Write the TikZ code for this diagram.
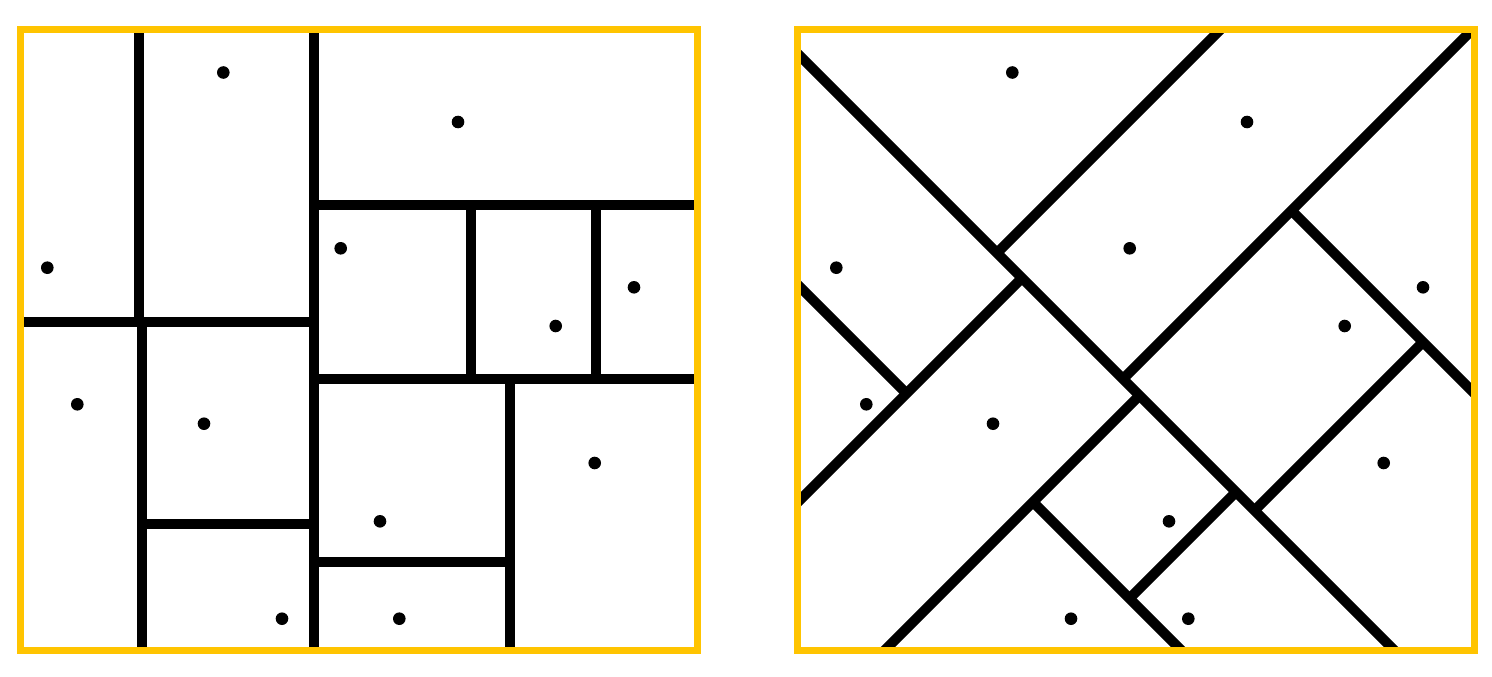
\documentclass[tikz,border=0pt]{standalone}
\usepackage{tikz}
\definecolor{frameyellow}{RGB}{255,196,0}
\definecolor{ink}{RGB}{0,0,0}
\tikzset{
  frame/.style={draw=frameyellow, line width=7pt},
  cut/.style={draw=ink, line width=10pt},
  site/.style={fill=ink},
}
% the same twelve sample points in both panels
\newcommand{\sitelist}{223.3/72.5, 47.3/267.7, 340.7/248.3, 458/122, 555.7/326,
  634/287.3, 77.3/404.3, 204/423.7, 282/618.7, 380/521.3, 399.3/618.7, 594.7/463}

\begin{document}
\begin{tikzpicture}[x=1pt,y=-1pt]
  \useasboundingbox (0,0) rectangle (1492,677);
  % axis-aligned splits
  \begin{scope}
    \clip (20,29.5) rectangle (697,650.5);
    \draw[cut] (313.5,20) -- (313.5,660);
    \draw[cut] (10,321.7) -- (313.5,321.7);
    \draw[cut] (138.7,20) -- (138.7,321.7);
    \draw[cut] (142.3,321.7) -- (142.3,660);
    \draw[cut] (142.3,523.7) -- (313.5,523.7);
    \draw[cut] (313.5,205) -- (710,205);
    \draw[cut] (313.5,379.3) -- (710,379.3);
    \draw[cut] (470.5,205) -- (470.5,379.3);
    \draw[cut] (596.3,205) -- (596.3,379.3);
    \draw[cut] (509.5,379.3) -- (509.5,660);
    \draw[cut] (313.5,562) -- (509.5,562);
  \end{scope}
  \draw[frame] (20,29.5) rectangle (697,650.5);
  \foreach \px/\py in \sitelist
    \fill[site] (\px,\py) circle (6.3);
  % rotated splits
  \begin{scope}
    \clip (797,29.5) rectangle (1474.5,650.5);
    \draw[cut] (780,36) -- (1410,666);
    \draw[cut] (997,253) -- (1240,10);
    \draw[cut] (1022,278) -- (780,520);
    \draw[cut] (1123,379) -- (1490,12);
    \draw[cut] (1291.5,210.5) -- (1490,409);
    \draw[cut] (1423,342) -- (1254.5,510.5);
    \draw[cut] (780,267) -- (906.5,393.5);
    \draw[cut] (1139.5,395.5) -- (869,666);
    \draw[cut] (1033,502) -- (1197,666);
    \draw[cut] (1129.5,598.5) -- (1236,492);
  \end{scope}
  \draw[frame] (797,29.5) rectangle (1474.5,650.5);
  \foreach \px/\py in \sitelist
    \fill[site, xshift=789pt] (\px,\py) circle (6.3);
\end{tikzpicture}
\end{document}
